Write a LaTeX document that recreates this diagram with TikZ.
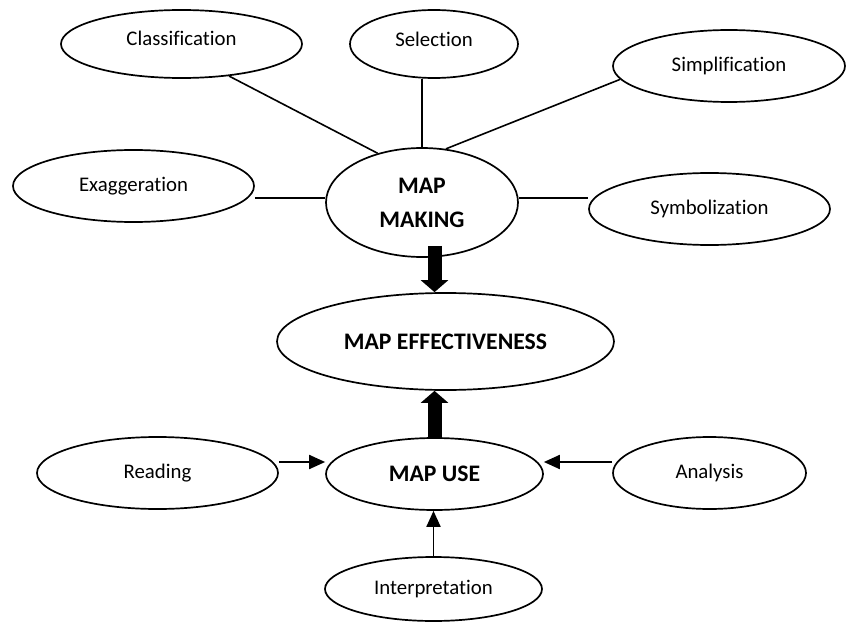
\documentclass[tikz,border=0pt]{standalone}
\usepackage{fontspec}
\setmainfont{Carlito}[Ligatures=CommonOff]
\usetikzlibrary{shapes.geometric,arrows.meta,calc}
\begin{document}
\begin{tikzpicture}[x=1pt,y=-1pt,
  oval/.style={draw, ellipse, line width=1.7pt, inner sep=0pt, font=\fontsize{20.8}{25}\selectfont},
  core/.style={oval, font=\bfseries\fontsize{23.7}{34}\selectfont, align=center},
  link/.style={line width=1.6pt},
  thinarrow/.style={line width=1.9pt, -{Triangle[width=14pt,length=16pt]}},
  bigarrow/.style={line width=14pt, -{Triangle[width=27pt,length=12pt]}}]
\useasboundingbox (0,0) rectangle (846,623);
% nodes
\node[oval, minimum width=241pt, minimum height=68pt] (cls) at (181.5,44) {\raisebox{12pt}{Classification}};
\node[oval, minimum width=168pt, minimum height=68pt] (sel) at (434,44) {\raisebox{10pt}{Selection}};
\node[oval, minimum width=232pt, minimum height=72pt] (simp) at (729,66) {Simplification};
\node[oval, minimum width=241pt, minimum height=72pt] (exg) at (133.5,186) {Exaggeration};
\node[core, minimum width=192pt, minimum height=109pt] (mm) at (422,202.5) {MAP\\MAKING};
\node[oval, minimum width=241pt, minimum height=72pt] (symb) at (709.5,209) {Symbolization};
\node[core, minimum width=337pt, minimum height=97pt] (eff) at (445.5,341.5) {MAP EFFECTIVENESS};
\node[oval, minimum width=241pt, minimum height=72pt] (rd) at (157.5,473) {Reading};
\node[core, minimum width=217pt, minimum height=72pt] (mu) at (434.5,474) {MAP USE};
\node[oval, minimum width=193pt, minimum height=72pt] (an) at (709.5,473) {Analysis};
\node[oval, minimum width=217pt, minimum height=64pt] (ip) at (433.5,589) {Interpretation};
% connectors to MAP MAKING
\coordinate (ly) at (0,198);
\draw[link] (cls.-34) -- (mm.132);
\draw[link] (mm.north) -- (mm.north |- sel.south);
\draw[link] (simp.187) -- (mm.66);
\draw[link] (exg.east |- ly) -- (mm.west |- ly);
\draw[link] (mm.east |- ly) -- (symb.west |- ly);
% big arrows
\draw[bigarrow] ($(mu.north |- mm.south)+(0,-12)$) -- (mu.north |- eff.north);
\draw[bigarrow] (mu.north) -- (mu.north |- eff.south);
% arrows into MAP USE
\coordinate (la) at (0,462);
\draw[thinarrow] (rd.east |- la) -- (mu.west |- la);
\draw[thinarrow] (an.west |- la) -- (mu.east |- la);
\draw[thinarrow] (ip.north) -- (ip.north |- mu.south);
\end{tikzpicture}
\end{document}
